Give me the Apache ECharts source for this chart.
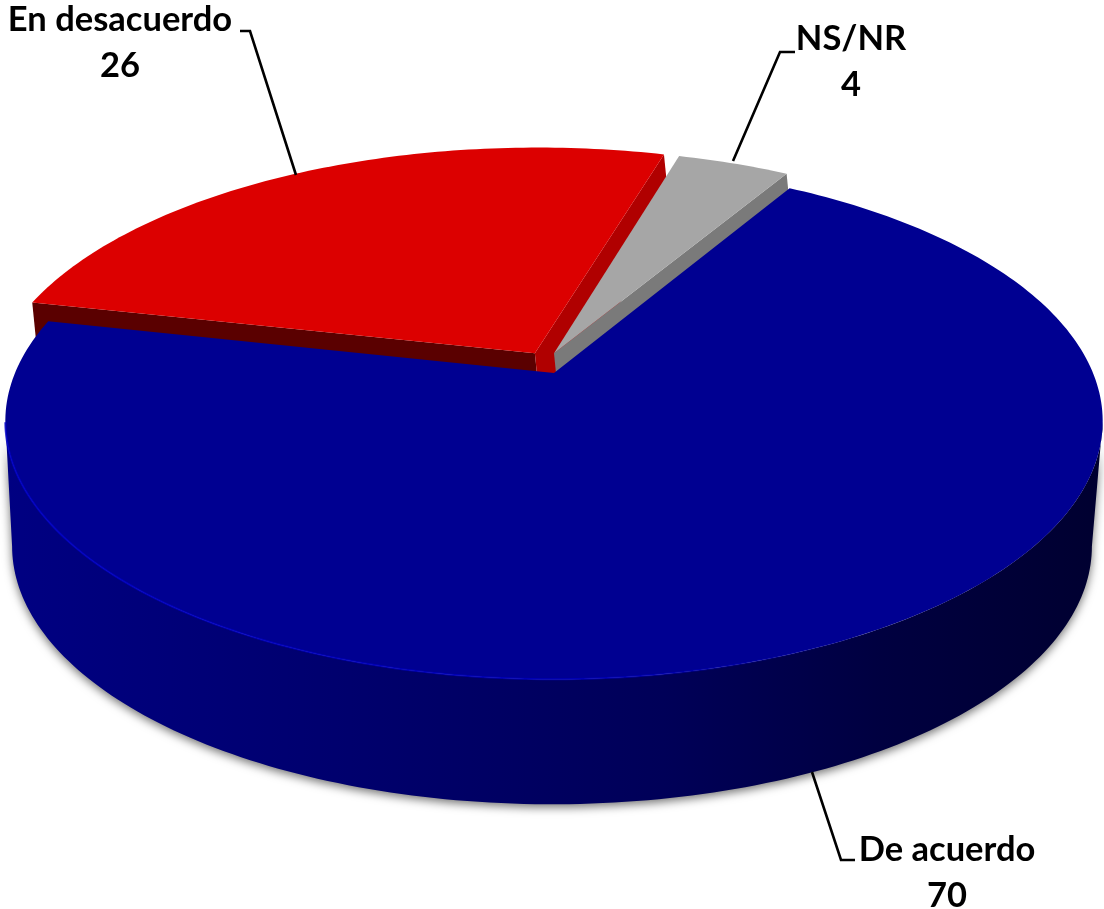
<!DOCTYPE html>
<html><head><meta charset="utf-8">
<style>html,body{margin:0;padding:0;background:#fff}#c{width:1104px;height:909px}</style>
<script src="https://cdn.jsdelivr.net/npm/echarts@6/dist/echarts.min.js"></script>
</head><body><div id="c"></div>
<script>
const categories = ['De acuerdo', 'En desacuerdo', 'NS/NR'];
const values = [70, 26, 4];

const colours = {
  'De acuerdo': {top: '#000091'},
  'En desacuerdo': {top: '#DC0000', cutA: '#5A0000', cutB: '#B00000'},
  'NS/NR': {top: '#A6A6A6', cutB: '#7A7A7A'}
};
// view: projection of the unit pie disc on the screen
const view = {cx: 554, cy: 373, R: 539, Q: 249, p: 0.187, startDeg: 30.5};
const explode = {'De acuerdo': [0, 0, 1], 'En desacuerdo': [-0.036, 0.08, 1.01], 'NS/NR': [0, 0.08, 1]};
const layer = {'De acuerdo': 30, 'En desacuerdo': 10, 'NS/NR': 20};
const callout = {
  'De acuerdo': {line: [[812, 772], [841, 860], [855, 860]], x: 947, y: 850},
  'En desacuerdo': {line: [[296, 175], [250, 31], [240, 31]], x: 120, y: 20},
  'NS/NR': {line: [[733, 161], [780, 52], [795, 52]], x: 851, y: 39}
};
const lineGap = 46;
const total = values.reduce((a, b) => a + b, 0);

function project(deg, ox, oz, k) {
  const t = deg * Math.PI / 180;
  const X = k * Math.sin(t) + ox, Z = k * Math.cos(t) + oz;
  const w = 1 + view.p * Z;
  return [view.cx + view.R * X / w, view.cy - view.Q * Z / w];
}
function centre(ox, oz) {
  const w = 1 + view.p * oz;
  return [view.cx + view.R * ox / w, view.cy - view.Q * oz / w];
}
function arc(a, b, ox, oz, k) {
  const pts = [], n = Math.ceil(Math.abs(b - a));
  for (let i = 0; i <= n; i++) pts.push(project(a + (b - a) * i / n, ox, oz, k));
  return pts;
}
function drop(pt, d) { return [pt[0] + d * 0.1, pt[1] + d]; }

function renderItem(params, api) {
  const name = categories[params.dataIndex];
  let before = 0;
  for (let i = 0; i < params.dataIndex; i++) before += values[i];
  const a0 = view.startDeg + before / total * 360;
  const a1 = a0 + api.value(0) / total * 360;
  const [ox, oz, k] = explode[name];
  const col = colours[name];
  const z = layer[name];
  const c = centre(ox, oz);
  const rim = arc(a0, a1, ox, oz, k);
  const children = [];

  if (name === 'De acuerdo') {
    // outer wall between the left and right extremes of the disc
    const wallTop = arc(100.8, 259.2, ox, oz, k);
    const wallBottom = wallTop.map(p => [552 + (p[0] - 554) * 0.984, p[1] + 125]).reverse();
    children.push({
      type: 'polygon', z2: z,
      shape: {points: wallTop.concat(wallBottom)},
      style: {
        fill: new echarts.graphic.LinearGradient(0, 0, 1, 0, [
          {offset: 0, color: '#000082'}, {offset: 0.3, color: '#00006E'},
          {offset: 0.6, color: '#000058'}, {offset: 0.8, color: '#000040'},
          {offset: 1, color: '#000030'}
        ]),
        shadowBlur: 10, shadowColor: 'rgba(0,0,0,0.55)', shadowOffsetY: 3
      }
    });
  } else {
    const depth = 70;
    if (col.cutA) {
      children.push({
        type: 'polygon', z2: z,
        shape: {points: [c, rim[0], drop(rim[0], depth), drop(c, depth)]},
        style: {fill: col.cutA}
      });
    }
    const far = rim[rim.length - 1];
    children.push({
      type: 'polygon', z2: z,
      shape: {points: [c, far, drop(far, depth), drop(c, depth)]},
      style: {fill: col.cutB}
    });
  }
  children.push({
    type: 'polygon', z2: z + 1,
    shape: {points: [c].concat(rim)},
    style: {fill: col.top}
  });
  if (name === 'De acuerdo') {
    children.push({
      type: 'polyline', z2: z + 2,
      shape: {points: arc(259, 150, ox, oz, k)},
      style: {
        fill: 'none', lineWidth: 2,
        stroke: new echarts.graphic.LinearGradient(0, 0, 1, 0, [
          {offset: 0, color: 'rgba(0,0,200,0.8)'}, {offset: 0.7, color: 'rgba(0,0,200,0.6)'},
          {offset: 1, color: 'rgba(0,0,200,0)'}
        ])
      }
    });
  }
  const co = callout[name];
  children.push({
    type: 'polyline', z2: 50,
    shape: {points: co.line},
    style: {fill: 'none', stroke: '#000', lineWidth: 2.6}
  });
  [name, String(api.value(0))].forEach((t, i) => children.push({
    type: 'text', z2: 50,
    style: {
      text: t, x: co.x, y: co.y + i * lineGap, fill: '#000',
      align: 'center', verticalAlign: 'middle',
      fontFamily: 'Lato', fontWeight: 'bold', fontSize: 34.5
    }
  }));
  return {type: 'group', children};
}

const chart = echarts.init(document.getElementById('c'), null, {renderer: 'canvas'});
chart.setOption({
  backgroundColor: '#fff',
  animation: false,
  series: [{
    type: 'custom',
    coordinateSystem: 'none',
    silent: true,
    renderItem,
    data: values.map((v, i) => ({name: categories[i], value: [v]}))
  }]
});
</script></body></html>
